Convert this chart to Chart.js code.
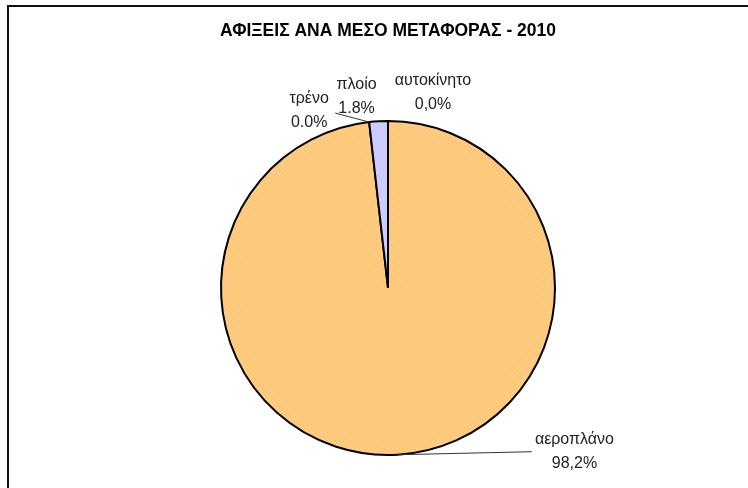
<!DOCTYPE html>
<html>
<head>
<meta charset="utf-8">
<script src="https://cdn.jsdelivr.net/npm/chart.js@4"></script>
<style>
  html, body { margin: 0; padding: 0; background: #fff; overflow: hidden; }
  #frame { position: absolute; left: 7px; top: 5px; width: 900px; height: 700px;
           border-left: 2px solid #111; border-top: 2px solid #111; }
  #pie { position: absolute; left: 0; top: 0; }
</style>
</head>
<body>
<div id="frame"></div>
<canvas id="pie" width="748" height="488"></canvas>
<script>
// categories and values (percent)
const categories = ["αυτοκίνητο", "αεροπλάνο", "τρένο", "πλοίο"];
const shares = [0.0, 98.2, 0.0, 1.8];
const shareLabels = ["0,0%", "98,2%", "0.0%", "1.8%"];

// label placement relative to the slice anchor (dx, dy) and leader lines
const labelOffsets = [[45, -28], [177, -3], [-60, -11], [-22, -25]];
const leaders = [false, true, true, false];

// light hatch for the orange slice
function hatch(base, line) {
  const c = document.createElement("canvas");
  c.width = 4; c.height = 4;
  const g = c.getContext("2d");
  g.fillStyle = base;
  g.fillRect(0, 0, 4, 4);
  g.fillStyle = line;
  for (let i = 0; i < 4; i++) g.fillRect(i, 3 - i, 1, 1);
  return g.createPattern(c, "repeat");
}
const ctx0 = document.getElementById("pie").getContext("2d");
const orange = hatch("#FFCC80", "#F8C274");

const sliceLabels = {
  id: "sliceLabels",
  afterDatasetsDraw(chart) {
    const ctx = chart.ctx;
    const arcs = chart.getDatasetMeta(0).data;
    ctx.save();
    ctx.font = "16px 'Liberation Sans', Arial, sans-serif";
    ctx.fillStyle = "#222";
    ctx.textAlign = "center";
    ctx.textBaseline = "middle";
    arcs.forEach((arc, i) => {
      const mid = (arc.startAngle + arc.endAngle) / 2;
      const ax = arc.x + Math.cos(mid) * arc.outerRadius;
      const ay = arc.y + Math.sin(mid) * arc.outerRadius;
      const lx = ax + labelOffsets[i][0];
      const ly = ay + labelOffsets[i][1];
      if (leaders[i]) {
        const w = ctx.measureText(categories[i]).width;
        const sx = labelOffsets[i][0] > 0 ? lx - w / 2 - 3 : lx + 26;
        const sy = labelOffsets[i][0] > 0 ? ly : ly + 2;
        ctx.beginPath();
        ctx.strokeStyle = "#333";
        ctx.lineWidth = 1;
        ctx.moveTo(sx, sy);
        ctx.lineTo(ax, ay);
        ctx.stroke();
      }
      ctx.fillText(categories[i], lx, ly - 12);
      ctx.fillText(shareLabels[i], lx, ly + 12);
    });
    ctx.restore();
  }
};

new Chart(ctx0, {
  type: "pie",
  data: {
    labels: categories,
    datasets: [{
      data: shares,
      backgroundColor: ["#FFFFCC", orange, "#CCFFFF", "#CCCCFF"],
      borderColor: "#000",
      borderWidth: 2
    }]
  },
  options: {
    responsive: false,
    animation: false,
    events: [],
    layout: { padding: { top: 0, bottom: 32, left: 220, right: 192 } },
    plugins: {
      legend: { display: false },
      tooltip: { enabled: false },
      title: {
        display: true,
        text: "ΑΦΙΞΕΙΣ ΑΝΑ ΜΕΣΟ ΜΕΤΑΦΟΡΑΣ - 2010",
        color: "#000",
        font: { family: "'Liberation Sans', Arial, sans-serif", size: 18, weight: "bold" },
        padding: { top: 20, bottom: 78.4 }
      }
    }
  },
  plugins: [sliceLabels]
});
</script>
</body>
</html>
